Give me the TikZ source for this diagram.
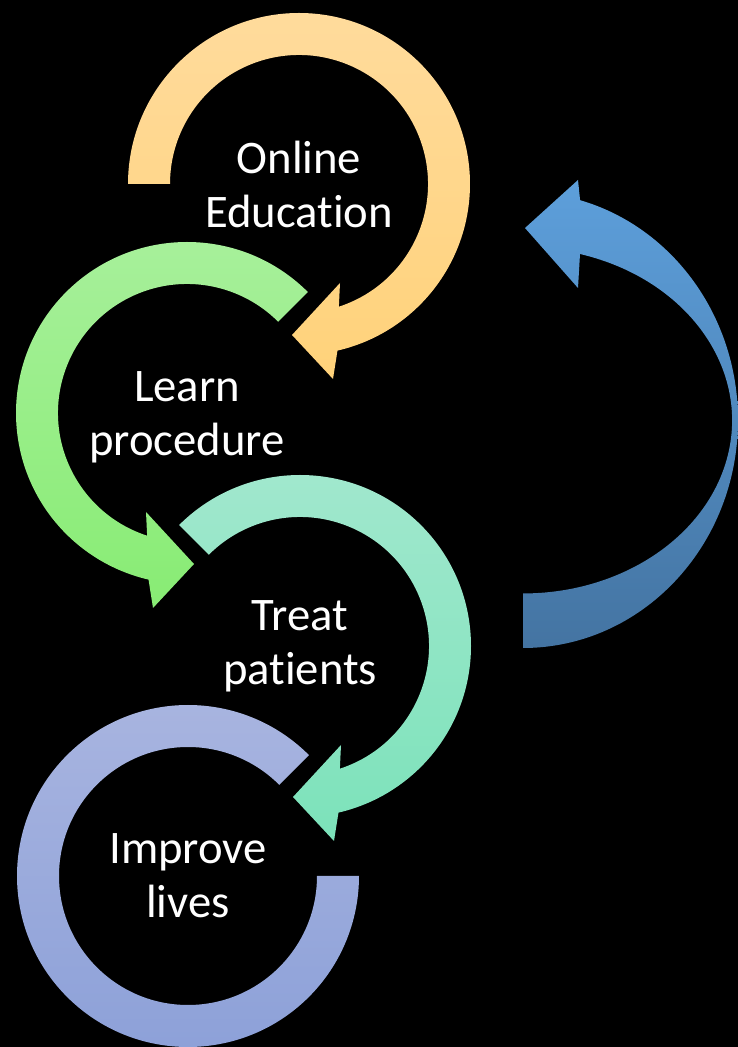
\documentclass[tikz,border=0pt]{standalone}
\usepackage{fontspec}
\setmainfont{Carlito}[Ligatures={NoCommon}]
\usepackage{tikz}
\usetikzlibrary{positioning}
\usetikzlibrary{calc}

\definecolor{orangetop}{HTML}{FFDB9C}
\definecolor{orangebot}{HTML}{FFD27A}
\definecolor{greentop}{HTML}{A8F09C}
\definecolor{greenbot}{HTML}{88EC74}
\definecolor{tealtop}{HTML}{A2E8CE}
\definecolor{tealbot}{HTML}{7CE2BA}
\definecolor{lilactop}{HTML}{A9B5E0}
\definecolor{lilacbot}{HTML}{8CA0D8}
\definecolor{bluetop}{HTML}{5D9FDB}
\definecolor{bluebot}{HTML}{4474A2}

\begin{document}
\begin{tikzpicture}[x=0.75pt,y=0.75pt,
	ringlabel/.style={text=white, align=center, font=\fontsize{35}{40.5}\selectfont},
	]

	% black page, 738 x 1047
	\fill[black] (0,0) rectangle (738,1047);
	\useasboundingbox (0,0) rectangle (738,1047);

	% centres of the four rings (outer radius 171, inner radius 129)
	\coordinate (C1) at (299,863);
	\coordinate (C2) at (187,634);
	\coordinate (C3) at (300,401);
	\coordinate (C4) at (188,171);

	%%%%%%%%%%%%%%%%%%%%%%%%%%%%%%%%%%%%%%%%%%%%%%%%%%%%%%%%%%%%%%
	% rings, each one ends in a head at the bottom
	\fill[top color=orangetop, bottom color=orangebot, shift={(C1)}]
		(180:171) arc[start angle=180, end angle=-77, radius=171]
		-- (34,-195) -- (-7,-151) -- (41,-99)
		-- (-72:129) arc[start angle=-72, end angle=180, radius=129] -- cycle;

	\fill[top color=greentop, bottom color=greenbot, shift={(C2)}]
		(45:171) arc[start angle=45, end angle=257, radius=171]
		-- (-34,-195) -- (7,-151) -- (-41,-99)
		-- (252:129) arc[start angle=252, end angle=45, radius=129] -- cycle;

	\fill[top color=tealtop, bottom color=tealbot, shift={(C3)}]
		(135:171) arc[start angle=135, end angle=-77, radius=171]
		-- (34,-195) -- (-7,-151) -- (41,-99)
		-- (-72:129) arc[start angle=-72, end angle=135, radius=129] -- cycle;

	% last ring has no head
	\fill[top color=lilactop, bottom color=lilacbot, shift={(C4)}]
		(45:171) arc[start angle=45, end angle=360, radius=171]
		-- (0:129) arc[start angle=360, end angle=45, radius=129] -- cycle;

	% curved arrow back up on the right
	\fill[top color=bluetop, bottom color=bluebot]
		(523,399) arc[start angle=-90, end angle=74.6, x radius=215, y radius=228]
		-- (578,867) -- (525,819) -- (578,759) -- (580,793)
		arc[start angle=74.2, end angle=-90, x radius=209, y radius=173] -- cycle;

	%%%%%%%%%%%%%%%%%%%%%%%%%%%%%%%%%%%%%%%%%%%%%%%%%%%%%%%%%%%%%%
	\node[ringlabel] (T1) at (C1) {Online\\Education};
	\node[ringlabel] (T2) at ($(C2)+(0,-4)$) {Learn\\procedure};
	\node[ringlabel] (T3) at (C3) {Treat\\patients};
	\node[ringlabel] (T4) at (C4) {Improve\\lives};

\end{tikzpicture}
\end{document}
